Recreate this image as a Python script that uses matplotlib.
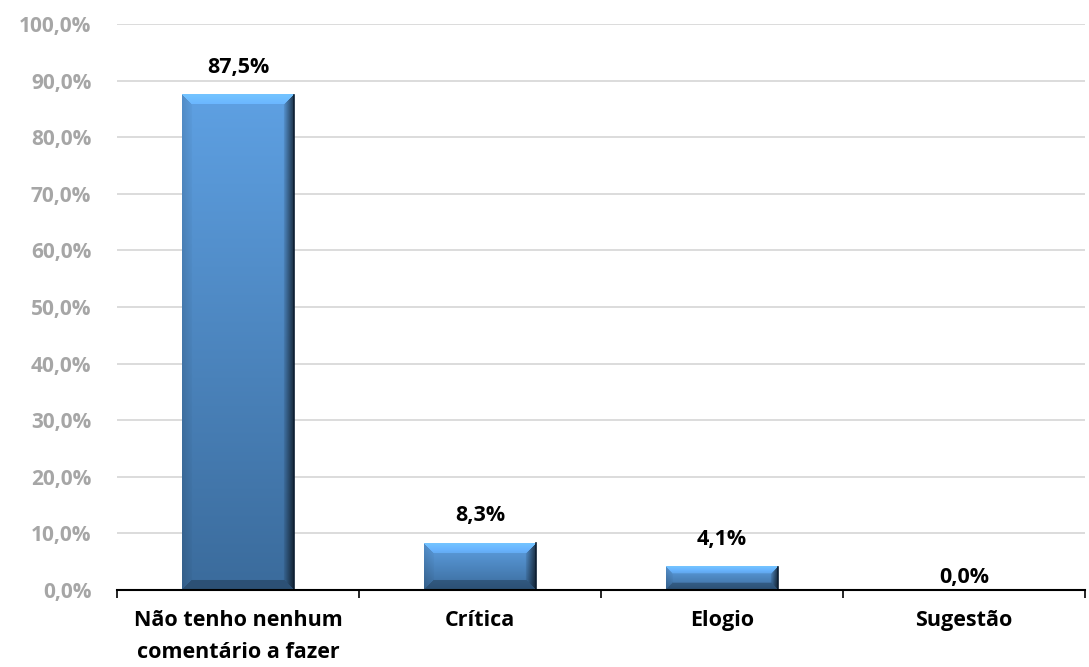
import numpy as np
import matplotlib.pyplot as plt
from matplotlib.ticker import FuncFormatter

categorias = ["Não tenho nenhum\ncomentário a fazer", "Crítica", "Elogio", "Sugestão"]
valores = [87.5, 8.3, 4.1, 0.0]
rotulos = ["87,5%", "8,3%", "4,1%", "0,0%"]

plt.rcParams['font.family'] = ['Open Sans', 'DejaVu Sans']
plt.rcParams['font.weight'] = 'bold'

fig = plt.figure(figsize=(10.89, 6.67), dpi=100)
ax = fig.add_axes([0.1074, 0.1154, 0.889, 0.8486])

x = np.arange(len(categorias))
largura = 0.46
barras = ax.bar(x, valores, width=largura, color="#4f8fcf", zorder=2)

ax.set_xlim(-0.5, len(categorias) - 0.5)
ax.set_ylim(0, 100)
ax.set_yticks(np.arange(0, 101, 10))
ax.yaxis.set_major_formatter(FuncFormatter(lambda v, p: f"{v:.1f}%".replace(".", ",")))
ax.grid(axis="y", color="#d9d9d9", linewidth=1.3, zorder=0)
ax.set_axisbelow(True)

for s in ["top", "right", "left"]:
    ax.spines[s].set_visible(False)
ax.spines["bottom"].set_linewidth(1.5)
ax.spines["bottom"].set_zorder(3)

ax.set_xticks(np.arange(-0.5, len(categorias), 1.0))
ax.set_xticklabels([])
ax.set_xticks(x, minor=True)
ax.set_xticklabels(categorias, minor=True, fontsize=15.5, fontweight="bold",
                   color="black", linespacing=1.65)
ax.tick_params(axis="x", which="major", length=6, width=1.2, direction="out")
ax.tick_params(axis="x", which="minor", length=0, pad=14.5)
ax.tick_params(axis="y", length=0, pad=18.5, labelsize=15, labelcolor="#a6a6a6")
for t in ax.get_yticklabels():
    t.set_fontweight("bold")

# gradiente com efeito de bisel em cada barra
fig.canvas.draw()
bevel = 10
for b in barras:
    x0, y0 = b.get_x(), b.get_y()
    w, h = b.get_width(), b.get_height()
    if h <= 0:
        b.set_visible(False)
        continue
    p0 = ax.transData.transform((x0, y0))
    p1 = ax.transData.transform((x0 + w, y0 + h))
    wp = max(int(round(p1[0] - p0[0])), 2)
    hp = max(int(round(p1[1] - p0[1])), 2)
    top = np.array([0.37, 0.63, 0.89])
    bot = np.array([0.23, 0.42, 0.61])
    t = np.linspace(0, 1, hp)[:, None, None]
    img = top * (1 - t) + bot * t
    img = np.repeat(img, wp, axis=1)
    xx = np.arange(wp)[None, :]
    yy = np.arange(hp)[:, None]
    bv = min(bevel, hp // 3, wp // 3) if hp > 6 else 2
    fac = np.ones((hp, wp))
    topband = (yy < bv) & (xx >= yy) & (xx < wp - yy)
    fac = np.where(topband, 1.22 - 0.08 * (yy / max(bv, 1)), fac)
    d_bot = hp - 1 - yy
    botband = (d_bot < bv) & (xx >= d_bot) & (xx < wp - d_bot)
    fac = np.where(botband, 0.75, fac)
    leftband = (xx < bv) & ~topband & ~botband
    fac = np.where(leftband, 0.88 + 0.1 * (xx / max(bv, 1)), fac)
    d_r = wp - 1 - xx
    rightband = (d_r < bv) & ~topband & ~botband
    fac = np.where(rightband, 0.35 + 0.6 * (d_r / max(bv, 1)), fac)
    img = np.clip(img * fac[:, :, None], 0, 1)
    ax.imshow(img, extent=(x0, x0 + w, y0, y0 + h), aspect="auto",
              origin="upper", zorder=2.5, interpolation="bilinear")
    ax.plot([x0 + w, x0 + w], [y0, y0 + h], color="#0d1f33", linewidth=1.2, zorder=2.6)

ax.set_xlim(-0.5, len(categorias) - 0.5)
ax.set_ylim(0, 100)

for xi, v, r in zip(x, valores, rotulos):
    off = 19.5 if v > 0 else 9
    ax.annotate(r, (xi, v), xytext=(0, off), textcoords="offset points",
                ha="center", va="center", fontsize=15.5, fontweight="bold", color="black")

fig.savefig("out.png", dpi=100)
